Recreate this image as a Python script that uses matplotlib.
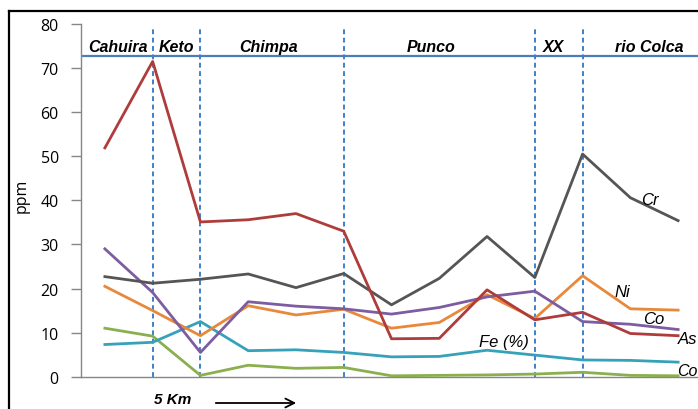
import matplotlib
matplotlib.use("Agg")
import matplotlib.pyplot as plt
from matplotlib.lines import Line2D

# Sampling stations along the river profile (13 sites)
stations = list(range(13))

as_ppm = [51.9, 71.5, 35.1, 35.6, 37.0, 33.0, 8.6, 8.7, 19.7, 12.9, 14.6, 9.8, 9.3]
cr_ppm = [22.7, 21.2, 22.1, 23.3, 20.2, 23.4, 16.3, 22.3, 31.8, 22.5, 50.5, 40.6, 35.4]
co_ppm = [29.0, 19.1, 5.5, 17.0, 16.0, 15.4, 14.2, 15.7, 18.1, 19.4, 12.5, 11.9, 10.7]
ni_ppm = [20.5, 15.0, 9.3, 16.1, 14.0, 15.3, 11.0, 12.3, 18.6, 13.2, 22.9, 15.4, 15.1]
fe_pct = [7.3, 7.8, 12.5, 5.9, 6.1, 5.5, 4.5, 4.6, 6.0, 4.9, 3.8, 3.7, 3.3]
low_ppm = [11.0, 9.2, 0.3, 2.6, 1.9, 2.1, 0.2, 0.3, 0.4, 0.6, 1.0, 0.3, 0.2]

# Zone boundaries (at station index) and zone names
boundaries = [1, 2, 5, 9, 10]
zone_names = ["Cahuira", "Keto", "Chimpa", "Punco", "XX", "rio Colca"]
zone_centers = [0.27, 1.49, 3.43, 6.82, 9.39, 11.4]
zone_line = 72.65

yticks = [0, 10, 20, 30, 40, 50, 60, 70, 80]

W, H = 698, 410
fig = plt.figure(figsize=(W / 100, H / 100), dpi=100)
ax = fig.add_axes([81 / W, (H - 377.7) / H, (702 - 81) / W, (377.7 - 25) / H])
ax.set_xlim(-0.5, 12.5)
ax.set_ylim(0, 80)

lw = 2.0
ax.plot(stations, low_ppm, color="#8BAF4E", lw=lw, zorder=3)
ax.plot(stations, fe_pct, color="#36A2B9", lw=lw, zorder=3)
ax.plot(stations, ni_ppm, color="#E8883A", lw=lw, zorder=3)
ax.plot(stations, co_ppm, color="#7D5CA0", lw=lw, zorder=3)
ax.plot(stations, cr_ppm, color="#555555", lw=lw, zorder=3)
ax.plot(stations, as_ppm, color="#AE3C3B", lw=lw, zorder=3)

blue = "#3F7FC8"
for b in boundaries:
    ax.plot([b, b], [0, 79.3], color=blue, lw=1.4, ls=(0, (2.5, 1.8)), zorder=2)
ax.axhline(zone_line, color="#4A7EBB", lw=1.6, zorder=2)

for name, xc in zip(zone_names, zone_centers):
    ax.text(xc, 74.8, name, ha="center", va="center", fontsize=11.5,
            fontweight="bold", fontstyle="italic", family="Liberation Sans")

lab = dict(fontstyle="italic", family="Liberation Sans", va="center", clip_on=False)
ax.text(11.4, 40.3, "Cr", ha="center", fontsize=12, **lab)
ax.text(10.84, 19.3, "Ni", ha="center", fontsize=12, **lab)
ax.text(11.49, 13.2, "Co", ha="center", fontsize=12, **lab)
ax.text(12.0, 8.6, "As", ha="left", fontsize=12, **lab)
ax.text(11.98, 1.3, "Co", ha="left", fontsize=11.5, **lab)
ax.text(8.35, 8.0, "Fe (%)", ha="center", fontsize=12, **lab)

ax.set_yticks(yticks)
ax.set_yticklabels([str(t) for t in yticks], family="Open Sans", fontsize=11.5)
ax.set_xticks([])
ax.tick_params(axis="y", length=7, width=1, color="#868686", pad=9)
for s in ("top", "right"):
    ax.spines[s].set_visible(False)
for s in ("left", "bottom"):
    ax.spines[s].set_color("#868686")
    ax.spines[s].set_linewidth(1.0)

fig.text(22 / W, 1 - 196 / H, "ppm", rotation=90, ha="center", va="center",
         family="Open Sans", fontsize=11.5)

fig.text(173 / W, 1 - 400 / H, "5 Km", ha="center", va="center", fontsize=11,
         fontweight="bold", fontstyle="italic", family="Liberation Sans")
fig.add_artist(matplotlib.patches.FancyArrowPatch(
    (213 / W, 1 - 404 / H), (299 / W, 1 - 404 / H), transform=fig.transFigure,
    arrowstyle="->", mutation_scale=16, lw=1.3, color="black"))

# outer chart frame
fig.add_artist(Line2D([9 / W, 9 / W], [1 - 12 / H, 0], transform=fig.transFigure,
                      color="black", lw=1.6))
fig.add_artist(Line2D([9 / W, 1], [1 - 12 / H, 1 - 12 / H], transform=fig.transFigure,
                      color="black", lw=1.6))

fig.savefig("out.png", dpi=100)
